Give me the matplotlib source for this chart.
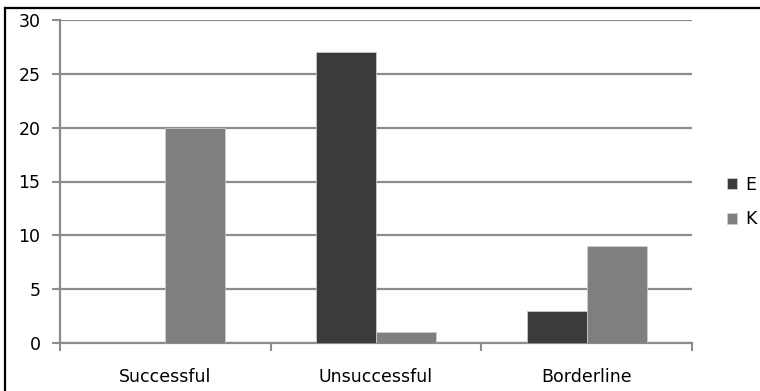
import matplotlib
matplotlib.use("Agg")
import matplotlib.pyplot as plt
from matplotlib.lines import Line2D
import numpy as np

categories = ["Successful", "Unsuccessful", "Borderline"]
series_names = ["E", "K"]
e_values = [0, 27, 3]
k_values = [20, 1, 9]
y_ticks = [0, 5, 10, 15, 20, 25, 30]

colors = ["#3b3b3b", "#7f7f7f"]
grid_color = "#8c8c8c"

plt.rcParams["font.family"] = ["DejaVu Sans"]

fig = plt.figure(figsize=(7.6, 3.91), dpi=100)
ax = fig.add_axes([60 / 760, 1 - 343 / 391, 632 / 760, 323 / 391])

x = np.arange(len(categories))
bw = 0.285
ax.bar(x - bw / 2, e_values, width=bw, color=colors[0], label=series_names[0],
       edgecolor="#d0d0d0", linewidth=0.5, zorder=3)
ax.bar(x + bw / 2, k_values, width=bw, color=colors[1], label=series_names[1],
       edgecolor="#d0d0d0", linewidth=0.5, zorder=3)

ax.set_xlim(-0.5, len(categories) - 0.5)
ax.set_ylim(0, 30)
ax.set_yticks(y_ticks)
ax.yaxis.grid(True, color=grid_color, linewidth=1.6, zorder=0)
ax.set_axisbelow(True)

for side in ["top", "right"]:
    ax.spines[side].set_visible(False)
for side in ["left", "bottom"]:
    ax.spines[side].set_color(grid_color)
    ax.spines[side].set_linewidth(1.6)

ax.tick_params(axis="y", length=6, width=1.5, color=grid_color, labelsize=12.5,
               pad=8, labelcolor="black")
# category labels centred on groups, tick marks on group boundaries
ax.set_xticks(x)
ax.set_xticklabels(categories, fontsize=12.5)
ax.tick_params(axis="x", length=0, pad=18)
ax.set_xticks(np.arange(len(categories) + 1) - 0.5, minor=True)
ax.tick_params(axis="x", which="minor", length=6, width=1.5, color=grid_color,
               direction="out")

ax.legend(loc="center left", bbox_to_anchor=(727 / 760, 1 - 202 / 391),
          bbox_transform=fig.transFigure, frameon=False, borderpad=0,
          borderaxespad=0, fontsize=12.5, handlelength=0.6, handleheight=0.6,
          labelspacing=0.95, handletextpad=0.45)

# chart frame: top and left edges
fig.add_artist(Line2D([5 / 760, 1.0], [1 - 8 / 391, 1 - 8 / 391],
                      transform=fig.transFigure, color="black", linewidth=1.6))
fig.add_artist(Line2D([5 / 760, 5 / 760], [0.0, 1 - 8 / 391],
                      transform=fig.transFigure, color="black", linewidth=1.6))

fig.savefig("out.png", dpi=100)
